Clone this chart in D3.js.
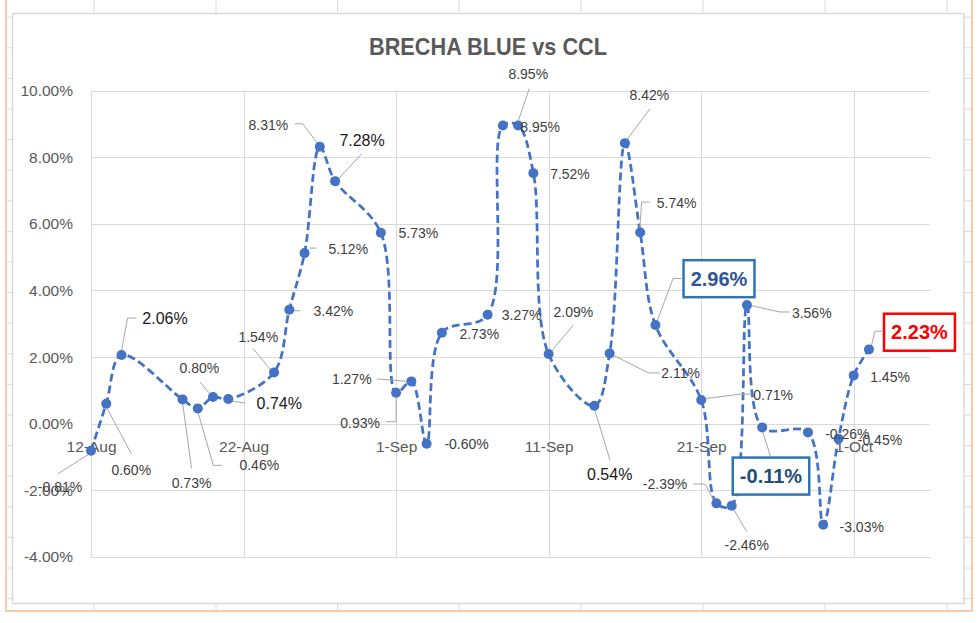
<!DOCTYPE html>
<html>
<head>
<meta charset="utf-8">
<script src="https://cdn.jsdelivr.net/npm/d3@7"></script>
<style>
  html, body { margin: 0; padding: 0; background: #ffffff; }
  svg { display: block; font-family: "Liberation Sans", Arial, sans-serif; }
</style>
</head>
<body>
<svg id="chart" width="980" height="623"></svg>
<script>
// ---------------- DATA ----------------
const title = "BRECHA BLUE vs CCL";
const dates = [
  "2020-08-12","2020-08-13","2020-08-14","2020-08-18","2020-08-19","2020-08-20","2020-08-21",
  "2020-08-24","2020-08-25","2020-08-26","2020-08-27","2020-08-28","2020-08-31",
  "2020-09-01","2020-09-02","2020-09-03","2020-09-04","2020-09-07","2020-09-08","2020-09-09",
  "2020-09-10","2020-09-11","2020-09-14","2020-09-15","2020-09-16","2020-09-17","2020-09-18",
  "2020-09-21","2020-09-22","2020-09-23","2020-09-24","2020-09-25","2020-09-28","2020-09-29",
  "2020-09-30","2020-10-01","2020-10-02"
];
const values = [
  -0.81, 0.60, 2.06, 0.73, 0.46, 0.80, 0.74,
  1.54, 3.42, 5.12, 8.31, 7.28, 5.73,
  0.93, 1.27, -0.60, 2.73, 3.27, 8.95, 8.95,
  7.52, 2.09, 0.54, 2.11, 8.42, 5.74, 2.96,
  0.71, -2.39, -2.46, 3.56, -0.11, -0.26, -3.03,
  -0.45, 1.45, 2.23
];
const xTickDates = ["2020-08-12","2020-08-22","2020-09-01","2020-09-11","2020-09-21","2020-10-01"];
const yTickValues = [-4, -2, 0, 2, 4, 6, 8, 10];
const xDomain = ["2020-08-12", "2020-10-06"];
const yDomain = [-4, 10];

// ---------------- LABEL LAYOUT (positions only) ----------------
// i: index of point, dx/dy: text centre offset from point, s: style, l: leader polyline (offsets)
const labelLayout = [
  {i:0,  dx:-31,  dy:36,  s:"n", l:[[-3,4],[-33,23]]},
  {i:1,  dx:25,   dy:66,  s:"n", l:[[0,3],[25,50]]},
  {i:2,  dx:43.5, dy:-37, s:"b", l:[[0,-4],[6,-37],[15,-37]]},
  {i:3,  dx:9,    dy:84,  s:"n", l:[[0,3],[9,69]]},
  {i:4,  dx:61.5, dy:57,  s:"n", l:[[0,3],[15.5,57],[24,57]]},
  {i:5,  dx:-13.7,dy:-28.6,s:"n", l:[[-2,-2],[-13,-15]]},
  {i:6,  dx:51,   dy:4.4, s:"b", l:[[3,2],[17,4]]},
  {i:7,  dx:-15.8,dy:-35.5,s:"n", l:[[-3,-2],[-21,-24]]},
  {i:8,  dx:44,   dy:1,   s:"n", l:[[4,1],[11,1]]},
  {i:9,  dx:43.7, dy:-4.5,s:"n", l:[[5,-5],[12,-5]]},
  {i:10, dx:-51.5,dy:-21.4,s:"n", l:[[-2,-3],[-17,-23],[-25,-23]]},
  {i:11, dx:27,   dy:-40.7,s:"b", l:[[3,-2],[26.6,-27.4]]},
  {i:12, dx:37.5, dy:0.3, s:"n"},
  {i:13, dx:-36,  dy:30,  s:"n", l:[[0,4],[0,29],[-10,29]]},
  {i:14, dx:-59.6,dy:-2,  s:"n", l:[[-3,0],[-34.6,-2.5]]},
  {i:15, dx:40,   dy:0.4, s:"n"},
  {i:16, dx:37.4, dy:0.8, s:"n"},
  {i:17, dx:34,   dy:0.5, s:"n"},
  {i:18, dx:25.4, dy:-51.7,s:"n", l:[[26.4,-36.7],[14.4,-1.7]]},
  {i:19, dx:22,   dy:1.7, s:"n"},
  {i:20, dx:36.6, dy:0.6, s:"n"},
  {i:21, dx:24.7, dy:-41.6,s:"n", l:[[2,-2],[24.7,-29]]},
  {i:22, dx:15.3, dy:68.4,s:"b", l:[[0,3],[15.6,54.4]]},
  {i:23, dx:71,   dy:19.5,s:"n", l:[[2,1],[38.6,19.5],[50.3,19.5]]},
  {i:24, dx:24.4, dy:-47.7,s:"n", l:[[1,-2],[25,-34.4]]},
  {i:25, dx:36.5, dy:-29.4,s:"n", l:[[-0.5,-3],[1.5,-30.4],[9.8,-30.4]]},
  {i:26, dx:63.6, dy:-46.4,s:"box1", l:[[1,-2],[17.6,-46.6],[26,-46.6]]},
  {i:27, dx:72,   dy:-5,  s:"n", l:[[1,-1],[38.8,-5.9],[50.5,-5.9]]},
  {i:28, dx:-51.4,dy:-19.3,s:"n", l:[[-2,-2],[-11.4,-19.3],[-23,-19.3]]},
  {i:29, dx:15,   dy:39.3,s:"n", l:[[1,2],[15,26]]},
  {i:30, dx:64.8, dy:7.5, s:"n", l:[[2,0],[33,6.9],[43,6.9]]},
  {i:31, dx:8.8,  dy:48.7,s:"box2", l:[[0,3],[8.5,29.4]]},
  {i:32, dx:39.4, dy:1.7, s:"n"},
  {i:33, dx:38.5, dy:2,   s:"n"},
  {i:34, dx:41.5, dy:1.4, s:"n"},
  {i:35, dx:36.3, dy:1.5, s:"n"},
  {i:36, dx:50.5, dy:-17.2,s:"box3", l:[[2,-2],[6,-18.2],[13,-18.2]]}
];

// ---------------- DRAW ----------------
const svg = d3.select("#chart");
const parse = d3.utcParse("%Y-%m-%d");
const data = dates.map((d, i) => ({date: parse(d), value: values[i]}));
const pct = v => v.toFixed(2) + "%";

// spreadsheet background
const bg = svg.append("g");
const colXs = [94, 216, 337.5, 459, 581, 703, 825, 947];
colXs.forEach(x => bg.append("line").attr("x1", x).attr("x2", x).attr("y1", 0).attr("y2", 611)
  .attr("stroke", "#DADADA").attr("stroke-width", 1));
for (let k = -3; k <= 16; k++) {
  const y = 109 + 30.6 * k;
  bg.append("line").attr("x1", 6).attr("x2", 972).attr("y1", y).attr("y2", y)
    .attr("stroke", "#DADADA").attr("stroke-width", 1);
}
bg.append("line").attr("x1", 6).attr("x2", 6).attr("y1", 0).attr("y2", 611).attr("stroke", "#F8CBAD").attr("stroke-width", 2);
bg.append("line").attr("x1", 972).attr("x2", 972).attr("y1", 0).attr("y2", 611).attr("stroke", "#F8CBAD").attr("stroke-width", 2);
bg.append("line").attr("x1", 5).attr("x2", 973).attr("y1", 611).attr("y2", 611).attr("stroke", "#F8CBAD").attr("stroke-width", 2);

// chart area
svg.append("rect").attr("x", 12.5).attr("y", 13.5).attr("width", 951.5).attr("height", 590)
  .attr("fill", "#ffffff").attr("stroke", "#D9D9D9").attr("stroke-width", 1.5);

// scales
const x = d3.scaleUtc().domain(xDomain.map(parse)).range([91, 930]);
const y = d3.scaleLinear().domain(yDomain).range([557, 90.5]);

// gridlines
const grid = svg.append("g");
grid.selectAll("line.h").data(yTickValues).join("line").attr("class", "h")
  .attr("x1", x.range()[0]).attr("x2", x.range()[1])
  .attr("y1", d => Math.round(y(d)) + 0.5).attr("y2", d => Math.round(y(d)) + 0.5)
  .attr("stroke", "#D9D9D9").attr("stroke-width", 1);
grid.selectAll("line.v").data(xTickDates.map(parse)).join("line").attr("class", "v")
  .attr("x1", d => Math.round(x(d)) + 0.5).attr("x2", d => Math.round(x(d)) + 0.5)
  .attr("y1", y.range()[1]).attr("y2", y.range()[0])
  .attr("stroke", "#D9D9D9").attr("stroke-width", 1);

// y axis labels
const yAxis = d3.axisLeft(y).tickValues(yTickValues).tickSize(0).tickPadding(0)
  .tickFormat(pct);
const yG = svg.append("g").attr("transform", "translate(73,0)").call(yAxis);
yG.select(".domain").remove();
yG.selectAll("text").attr("font-size", "15.5px").attr("fill", "#595959")
  .attr("font-family", '"Liberation Sans", Arial, sans-serif');

// x axis labels (positioned at the 0% line)
const xAxis = d3.axisBottom(x).tickValues(xTickDates.map(parse)).tickSize(0).tickPadding(16)
  .tickFormat(d3.utcFormat("%-d-%b"));
const xG = svg.append("g").attr("transform", `translate(0,${y(0)})`).call(xAxis);
xG.select(".domain").remove();
xG.selectAll("text").attr("font-size", "15.5px").attr("fill", "#595959")
  .attr("dy", "0").attr("y", 28)
  .attr("font-family", '"Liberation Sans", Arial, sans-serif');

// title
svg.append("text").attr("x", 488).attr("y", 55).attr("text-anchor", "middle")
  .attr("font-size", "24px").attr("font-weight", "bold").attr("fill", "#595959")
  .attr("textLength", 238).attr("lengthAdjust", "spacingAndGlyphs")
  .text(title);

// line
const line = d3.line().x(d => x(d.date)).y(d => y(d.value)).curve(d3.curveCatmullRom.alpha(0.5));
svg.append("path").datum(data).attr("d", line).attr("fill", "none")
  .attr("stroke", "#4472C4").attr("stroke-width", 2.75).attr("stroke-dasharray", "8,4");

// leaders
const leaderG = svg.append("g");
labelLayout.filter(l => l.l).forEach(l => {
  const px = x(data[l.i].date), py = y(data[l.i].value);
  leaderG.append("polyline")
    .attr("points", l.l.map(p => [px + p[0], py + p[1]].join(",")).join(" "))
    .attr("fill", "none").attr("stroke", "#A6A6A6").attr("stroke-width", 1);
});

// markers
svg.append("g").selectAll("circle").data(data).join("circle")
  .attr("cx", d => x(d.date)).attr("cy", d => y(d.value)).attr("r", 5)
  .attr("fill", "#4472C4");

// labels
const styles = {
  n:    {size: 14, weight: "normal", fill: "#404040"},
  b:    {size: 16, weight: "normal", fill: "#1A1A1A"},
  box1: {size: 20, weight: "bold", fill: "#2F5597", box: "#2E75B6"},
  box2: {size: 20, weight: "bold", fill: "#1F4E79", box: "#2E75B6"},
  box3: {size: 20, weight: "bold", fill: "#FF0000", box: "#FF0000"}
};
const labelG = svg.append("g");
labelLayout.forEach(l => {
  const st = styles[l.s];
  const cx = x(data[l.i].date) + l.dx, cy = y(data[l.i].value) + l.dy;
  const g = labelG.append("g");
  const t = g.append("text").attr("x", cx).attr("y", cy)
    .attr("text-anchor", "middle").attr("dominant-baseline", "central")
    .attr("font-size", st.size + "px").attr("font-weight", st.weight).attr("fill", st.fill)
    .text(pct(data[l.i].value));
  if (st.box) {
    const bb = t.node().getBBox();
    const w = bb.width + 14, h = 37;
    g.insert("rect", "text").attr("x", cx - w / 2).attr("y", cy - h / 2)
      .attr("width", w).attr("height", h).attr("fill", "#ffffff")
      .attr("stroke", st.box).attr("stroke-width", 2.5);
  }
});
</script>
</body>
</html>
